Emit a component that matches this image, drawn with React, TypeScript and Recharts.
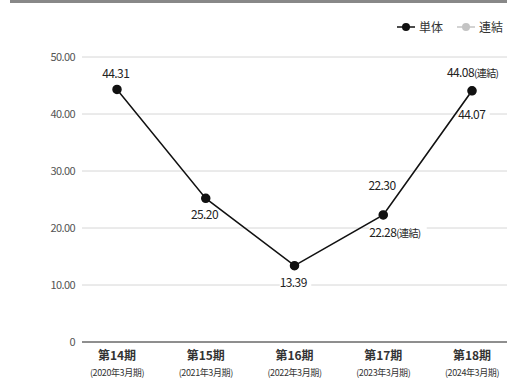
import { LineChart, Line, XAxis, YAxis, CartesianGrid } from 'recharts';

const periods = ['第14期', '第15期', '第16期', '第17期', '第18期'];
const fiscalYears = ['(2020年3月期)', '(2021年3月期)', '(2022年3月期)', '(2023年3月期)', '(2024年3月期)'];
const standalone = [44.31, 25.2, 13.39, 22.3, 44.07];
const consolidated = [null, null, null, 22.28, 44.08];
const yTicks = [0, 10, 20, 30, 40, 50];

const FONT = '"Noto Sans CJK JP", "Noto Sans", sans-serif';

// where each value label sits relative to its dot; gap = strip of white that
// breaks the grid line running under the label (top/bottom relative to label centre)
const standaloneLabelPos = [
  { dx: 0, dy: -16, anchor: 'middle' },
  { dx: 0, dy: 16, anchor: 'middle' },
  { dx: 0, dy: 17, anchor: 'middle', gap: [-1, 5] },
  { dx: 0, dy: -29, anchor: 'middle' },
  { dx: 1, dy: 24, anchor: 'middle', gap: [-2, 2] },
];
const consolidatedLabelPos = [
  null,
  null,
  null,
  { dx: -14, dy: 18, anchor: 'start', gap: [-8, -2] },
  { dx: -25, dy: -18, anchor: 'start' },
];

const data = periods.map((p, i) => ({
  period: p,
  standalone: standalone[i],
  consolidated: consolidated[i],
}));

function labelBox(x: number, value: number, pos: any, suffix?: string) {
  const text = value.toFixed(2);
  const numW = text.length * 5.9;
  const sufW = suffix ? 26 : 0;
  const w = numW + sufW;
  const left = pos.anchor === 'start' ? x + pos.dx : x + pos.dx - w / 2;
  return { text, left, w };
}

// grid gap behind a label, drawn as the dot of a hidden series
function makeGridGap(positions: any[], suffix?: string) {
  return (props: any) => {
    const { cx, cy, value, index } = props;
    const pos = positions[index];
    if (value == null || !pos || !pos.gap || cx == null) return <g key={`gap-${index}`} />;
    const b = labelBox(cx, value, pos, suffix);
    const [t, bt] = pos.gap;
    return (
      <rect key={`gap-${index}`} x={b.left} y={cy + pos.dy + t} width={b.w + 2} height={bt - t} fill="#fff" />
    );
  };
}

function ValueLabel(props: any) {
  const { x, y, value, index, positions, suffix } = props;
  const pos = positions[index];
  if (value == null || !pos) return null;
  const b = labelBox(x, value, pos, suffix);
  return (
    <text x={b.left} y={y + pos.dy} dy="0.35em" fontSize={12} fill="#222" fontFamily={FONT} letterSpacing={-0.6}>
      {b.text}
      {suffix && <tspan fontSize={10}>{suffix}</tspan>}
    </text>
  );
}

function PeriodTick(props: any) {
  const { x, y, payload, index } = props;
  return (
    <g>
      <text x={x} y={y + 10} textAnchor="middle" fontSize={12} fontWeight="bold" fill="#333" fontFamily={FONT}>
        {payload.value}
      </text>
      <text x={x} y={y + 26} textAnchor="middle" fontSize={9} fill="#333" fontFamily={FONT} letterSpacing={-0.4}>
        {fiscalYears[index]}
      </text>
    </g>
  );
}

function LegendBox() {
  const item = (label: string, color: string) => (
    <span style={{ display: 'inline-flex', alignItems: 'center', marginLeft: 14 }}>
      <svg width={18} height={10}>
        <line x1={0} y1={5} x2={18} y2={5} stroke={color} strokeWidth={1.5} />
        <circle cx={9} cy={5} r={4} fill={color} />
      </svg>
      <span style={{ marginLeft: 4, fontSize: 12, color: '#333', fontFamily: FONT }}>{label}</span>
    </span>
  );
  return (
    <div style={{ position: 'absolute', top: 18, right: 4, display: 'flex', zIndex: 1 }}>
      {item('単体', '#111')}
      {item('連結', '#c4c4c4')}
    </div>
  );
}

export default function App() {
  return (
    <div style={{ position: 'absolute', left: 0, top: 0, width: 507, height: 382, background: '#fff' }}>
      <div style={{ position: 'absolute', left: 10, top: 0, width: 497, height: 3, background: '#888' }} />
      <LegendBox />
      <LineChart width={507} height={382} data={data} margin={{ top: 57, right: 0, bottom: 0, left: 0 }}>
        <CartesianGrid horizontal vertical={false} stroke="#d6d6d6" />
        <XAxis
          dataKey="period"
          padding={{ left: 35, right: 35 }}
          axisLine={{ stroke: '#333' }}
          tickLine={false}
          tick={<PeriodTick />}
          interval={0}
          height={40}
        />
        <YAxis
          width={82}
          domain={[0, 50]}
          ticks={yTicks}
          axisLine={false}
          tickLine={false}
          tickSize={0}
          tickMargin={7}
          tickFormatter={(v: number) => (v === 0 ? '0' : v.toFixed(2))}
          tick={{ fontSize: 11, fill: '#555', fontFamily: FONT, letterSpacing: -0.6 }}
        />
        <Line
          dataKey="standalone"
          stroke="none"
          dot={makeGridGap(standaloneLabelPos)}
          activeDot={false}
          legendType="none"
          isAnimationActive={false}
        />
        <Line
          dataKey="consolidated"
          stroke="none"
          dot={makeGridGap(consolidatedLabelPos, '(連結)')}
          activeDot={false}
          legendType="none"
          isAnimationActive={false}
        />
        <Line
          dataKey="consolidated"
          stroke="#c4c4c4"
          strokeWidth={1.5}
          dot={{ r: 4, fill: '#c4c4c4', stroke: '#c4c4c4' }}
          isAnimationActive={false}
          label={<ValueLabel positions={consolidatedLabelPos} suffix="(連結)" />}
        />
        <Line
          dataKey="standalone"
          stroke="#111"
          strokeWidth={1.5}
          dot={{ r: 4, fill: '#111', stroke: '#111' }}
          isAnimationActive={false}
          label={<ValueLabel positions={standaloneLabelPos} />}
        />
      </LineChart>
    </div>
  );
}
